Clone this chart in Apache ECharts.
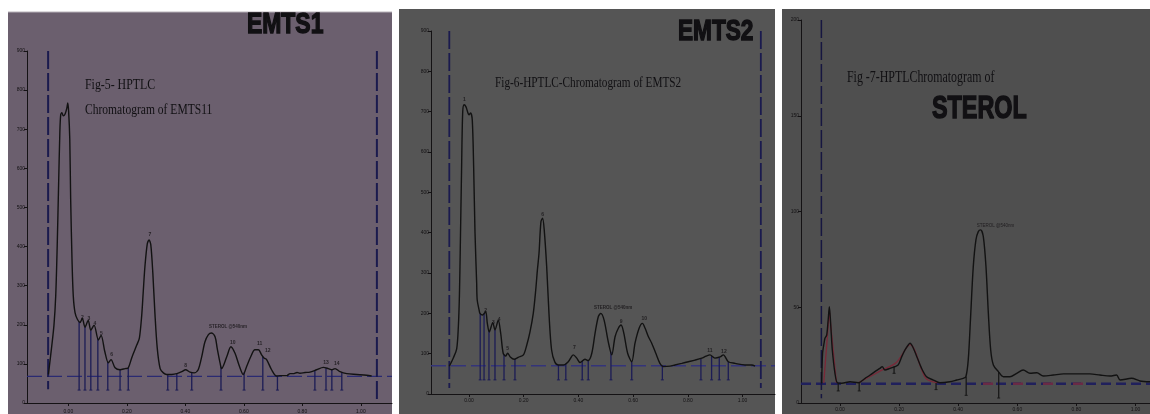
<!DOCTYPE html>
<html>
<head>
<meta charset="utf-8">
<script src="https://cdn.jsdelivr.net/npm/echarts@6/dist/echarts.min.js"></script>
<style>
html,body{margin:0;padding:0;background:#fff;}
#c{width:1150px;height:414px;}
</style>
</head>
<body>
<div id="c"></div>
<script>
// ---------------- DATA ----------------
const xTicks = [0, 0.2, 0.4, 0.6, 0.8, 1.0];

// Panel 1 (EMTS1) trace: Rf vs AU
const rf1 = [-0.068,-0.057,-0.049,-0.043,-0.038,-0.033,-0.029,-0.026,-0.022,-0.017,-0.011,-0.005,-0.002,0.001,0.005,0.008,0.013,0.017,0.023,0.031,0.040,0.048,0.057,0.068,0.077,0.088,0.103,0.112,0.125,0.137,0.146,0.160,0.177,0.194,0.205,0.217,0.234,0.243,0.251,0.256,0.262,0.270,0.276,0.282,0.289,0.296,0.304,0.314,0.325,0.336,0.354,0.371,0.388,0.401,0.416,0.430,0.444,0.456,0.467,0.479,0.490,0.502,0.509,0.519,0.524,0.542,0.556,0.570,0.585,0.598,0.610,0.624,0.638,0.650,0.661,0.669,0.678,0.695,0.712,0.724,0.747,0.758,0.769,0.782,0.792,0.809,0.826,0.849,0.872,0.889,0.901,0.912,0.929,0.952,0.986,1.020,1.037];
const au1 = [73,143,199,274,400,563,689,737,742,734,739,754,767,747,676,525,357,274,231,214,206,216,194,211,186,199,161,173,131,103,111,90,85,88,90,116,148,166,224,282,349,407,417,405,332,231,141,88,77,73,73,75,80,85,79,77,85,118,156,175,179,169,140,102,88,119,144,127,94,73,94,119,136,136,123,115,111,85,69,70,70,75,75,78,76,78,79,85,91,88,85,88,80,75,73,71,69];
const bound1 = [-0.069, 1.055];
const boundTop1 = [900, 900];
const boundBot1 = [35, 10];
const base1 = 68;
const dropRf1 = [0.037,0.057,0.077,0.101,0.135,0.177,0.205,0.340,0.371,0.422,0.522,0.601,0.665,0.715,0.843,0.881,0.901,0.935];
const dropTop1 = [208,194,186,164,105,85,90,73,75,78,93,78,118,69,84,89,85,79];
const dropBot1 = 33;
const lblTxt1 = ['2','3','4','5','6','7','8','10','11','12','13','14'];
const lblRf1 = [0.048,0.070,0.091,0.113,0.148,0.279,0.401,0.562,0.654,0.682,0.881,0.918];
const lblAU1 = [219,217,203,178,123,431,96,155,151,134,104,100];
const sterolLbl1 = [0.546, 194];

// Panel 2 (EMTS2)
const rf2 = [-0.072,-0.057,-0.045,-0.039,-0.035,-0.032,-0.027,-0.023,-0.018,-0.011,-0.005,0.000,0.006,0.012,0.017,0.022,0.028,0.030,0.037,0.040,0.050,0.061,0.067,0.074,0.087,0.095,0.107,0.116,0.125,0.134,0.141,0.152,0.165,0.180,0.199,0.211,0.223,0.235,0.244,0.250,0.256,0.263,0.269,0.275,0.284,0.293,0.302,0.314,0.327,0.345,0.363,0.376,0.381,0.394,0.406,0.424,0.436,0.449,0.461,0.473,0.482,0.494,0.509,0.522,0.534,0.546,0.556,0.566,0.580,0.595,0.607,0.622,0.634,0.644,0.656,0.668,0.683,0.698,0.710,0.735,0.753,0.778,0.802,0.826,0.851,0.867,0.881,0.899,0.918,0.930,0.948,0.973,1.009,1.034,1.046];
const au2 = [69,90,112,166,245,357,563,699,717,712,699,692,697,679,563,399,275,233,208,200,196,204,175,154,177,159,183,150,101,94,101,91,86,91,97,121,154,200,258,307,349,427,436,407,316,192,109,79,72,72,80,94,97,89,78,86,83,101,151,192,200,183,130,97,142,163,171,151,101,80,126,163,175,163,142,126,101,76,68,69,72,76,80,84,89,94,97,89,92,97,80,76,72,72,69];
const bound2 = [-0.072, 1.067];
const base2 = 70;
const dropRf2 = [0.041,0.055,0.073,0.095,0.128,0.168,0.327,0.354,0.414,0.436,0.519,0.595,0.707,0.848,0.887,0.915,0.948];
const dropTop2 = [200,200,156,159,98,87,72,75,82,83,105,80,70,88,94,91,80];
const dropBot2 = 35;
const lblTxt2 = ['1','2','3','4','5','6','7','9','10','11','12'];
const lblRf2 = [-0.017,0.061,0.089,0.110,0.141,0.269,0.385,0.556,0.641,0.881,0.932];
const lblAU2 = [731,206,177,185,112,444,115,179,186,107,105];
const sterolLbl2 = [0.527, 213];

// Panel 3 (STEROL standard)
const rf3 = [-0.062,-0.059,-0.054,-0.051,-0.045,-0.040,-0.036,-0.031,-0.026,-0.017,-0.009,0.006,0.034,0.062,0.085,0.102,0.118,0.135,0.143,0.152,0.169,0.186,0.197,0.209,0.220,0.231,0.237,0.246,0.260,0.276,0.293,0.316,0.338,0.372,0.395,0.417,0.426,0.434,0.442,0.451,0.460,0.468,0.476,0.485,0.494,0.502,0.510,0.519,0.536,0.553,0.575,0.598,0.620,0.643,0.666,0.688,0.722,0.756,0.801,0.846,0.880,0.914,0.936,0.948,0.987,1.015,1.049];
const au3 = [10.3,26.0,31.2,33.8,35.5,43.4,50.3,39.9,27.7,15.5,10.6,10.3,11.1,10.6,12.9,14.6,16.4,18.1,19.0,17.2,18.1,19.0,19.9,24.2,27.7,30.3,31.2,29.4,24.2,18.1,13.7,12.0,10.6,11.1,12.0,12.9,13.7,22.5,45.1,71.2,85.2,89.5,90.4,86.9,71.2,46.9,27.7,19.9,16.4,13.7,13.7,15.5,17.2,15.5,15.8,14.1,14.6,15.2,15.2,15.2,14.6,14.1,14.6,12.0,12.9,11.5,11.1];
const bound3 = [-0.063];
const base3 = 10;
const fitRf3a = [-0.055,-0.036,-0.012];
const fitAU3a = [10.5,48,10.5];
const fitRf3b = [0.062,0.14,0.19,0.237,0.29,0.33];
const fitAU3b = [10.6,17,21,30.5,13,10.6];
const dropRf3 = [-0.006,0.065,0.183,0.325,0.427,0.537];
const dropTop3 = [10.5,10.6,19,10.6,13.7,16.2];
const dropBot3 = [6.3,6.3,15.5,7,4,2.6];
const sterolLbl3 = [0.526, 92.5];
const sterolText = 'STEROL @540nm';

// ---------------- CHART ----------------
const chart = echarts.init(document.getElementById('c'), null, {renderer:'canvas'});
const pair = (xs, ys) => xs.map((x,i)=>[x, ys[i]]);
const ink = '#141214';
const navy = '#1a1a4e';

function xAxisCfg(idx, min, max, lblMargin){
  return {gridIndex: idx, type:'value', min:min, max:max,
    axisLine:{show:true, onZero:false, lineStyle:{color:ink, width:1}},
    axisTick:{show:true, customValues:xTicks, length:3, lineStyle:{color:ink}},
    axisLabel:{show:true, customValues:xTicks, formatter:v=>v.toFixed(2), fontSize:5, color:ink, margin:lblMargin, fontFamily:'Liberation Sans'},
    splitLine:{show:false}};
}
function yAxisCfg(idx, max, interval){
  return {gridIndex: idx, type:'value', min:0, max:max, interval:interval,
    axisLine:{show:true, onZero:false, lineStyle:{color:ink, width:1}},
    axisTick:{show:true, length:3, lineStyle:{color:ink}},
    axisLabel:{show:true, fontSize:5, color:ink, margin:2, fontFamily:'Liberation Sans'},
    splitLine:{show:false}};
}
function curve(idx, data){
  return {type:'line', xAxisIndex:idx, yAxisIndex:idx, data:data, showSymbol:false, smooth:0.3,
    lineStyle:{color:'#121212', width:1.4}, z:5, silent:true};
}
function vDashed(idx, rfs, tops, bots, color, width){
  return rfs.map((r,i)=>({type:'line', xAxisIndex:idx, yAxisIndex:idx, data:[[r,tops[i]],[r,bots[i]]], showSymbol:false, clip:false,
    lineStyle:{color:color, width:width, type:[18,4]}, z:3, silent:true}));
}
function hBase(idx, xmin, xmax, v, color, width, dash){
  return {type:'line', xAxisIndex:idx, yAxisIndex:idx, data:[[xmin,v],[xmax,v]], showSymbol:false,
    lineStyle:{color:color, width:width, type:dash}, z:3, silent:true};
}
function drops(idx, rfs, tops, bots, color){
  return {type:'custom', xAxisIndex:idx, yAxisIndex:idx, silent:true, z:4,
    data: rfs.map((r,i)=>[r, tops[i], Array.isArray(bots)?bots[i]:bots]),
    renderItem:function(params, api){
      const t = api.coord([api.value(0), api.value(1)]);
      const b = api.coord([api.value(0), api.value(2)]);
      return {type:'group', children:[
        {type:'line', shape:{x1:t[0],y1:t[1],x2:b[0],y2:b[1]}, style:{stroke:color, lineWidth:1.3}},
        {type:'line', shape:{x1:b[0]-1.5,y1:b[1],x2:b[0]+1.5,y2:b[1]}, style:{stroke:color, lineWidth:1}}
      ]};
    }};
}
function labels(idx, txt, rfs, aus, size, bold){
  return {type:'scatter', xAxisIndex:idx, yAxisIndex:idx, symbolSize:0, silent:true, z:6,
    data: txt.map((t,i)=>({name:t, value:[rfs[i], aus[i]]})),
    label:{show:true, position:'inside', formatter:p=>p.name, fontSize:size, fontWeight:bold?'bold':'normal', color:ink, fontFamily:'Liberation Sans'}};
}

const g1 = {left:27, top:51, width:365, height:358};
const g2 = {left:431, top:31, width:344, height:363};
const g3 = {left:801, top:20, width:349, height:383};
const x1min = (27-68.3)/292.5, x1max = x1min + 365/292.5;
const x2min = (431-469)/273.5, x2max = x2min + 344/273.5;
const x3min = (801-840)/295.5, x3max = x3min + 349/295.5;

function txt(x, y, s, font, sx, strokeW){
  const st = {text:s, font:font, fill:'#111013', textVerticalAlign:'middle', textAlign:'left'};
  if (strokeW) { st.stroke = '#111013'; st.lineWidth = strokeW; }
  return {type:'text', x:x, y:y, scaleX:sx, z:10, silent:true, style:st};
}

const option = {
  animation:false,
  backgroundColor:'#ffffff',
  graphic:[
    {type:'rect', shape:{x:8, y:12, width:384, height:402}, style:{fill:'#6b5f6e'}, z:-10, silent:true},
    {type:'line', shape:{x1:8, y1:12, x2:392, y2:12}, style:{stroke:'#b8b2b9', lineWidth:1}, z:-9, silent:true},
    {type:'rect', shape:{x:399, y:9, width:376, height:405}, style:{fill:'#555555'}, z:-10, silent:true},
    {type:'rect', shape:{x:782, y:9, width:368, height:405}, style:{fill:'#4f4f4f'}, z:-10, silent:true},
    txt(247, 25, 'EMTS1', 'bold 29px "Liberation Sans"', 0.79, 1.4),
    txt(678, 31.5, 'EMTS2', 'bold 29px "Liberation Sans"', 0.78, 1.4),
    txt(932, 109, 'STEROL', 'bold 32px "Liberation Sans"', 0.73, 1.4),
    txt(85, 85, 'Fig-5- HPTLC', '15px "Liberation Serif"', 0.79),
    txt(85, 110, 'Chromatogram of EMTS11', '15px "Liberation Serif"', 0.77),
    txt(495, 83, 'Fig-6-HPTLC-Chromatogram of EMTS2', '15px "Liberation Serif"', 0.75),
    txt(847, 77.5, 'Fig -7-HPTLChromatogram of', '17px "Liberation Serif"', 0.70)
  ],
  grid:[Object.assign({containLabel:false}, g1), Object.assign({containLabel:false}, g2), Object.assign({containLabel:false}, g3)],
  xAxis:[xAxisCfg(0, x1min, x1max, 6), xAxisCfg(1, x2min, x2max, 4), xAxisCfg(2, x3min, x3max, 4)],
  yAxis:[yAxisCfg(0, 900, 100), yAxisCfg(1, 900, 100), yAxisCfg(2, 200, 50)],
  series:[
    // panel 1
    hBase(0, x1min, x1max, base1, '#2a2a72', 1.2, [15,5]),
    ...vDashed(0, bound1, boundTop1, boundBot1, navy, 2),
    drops(0, dropRf1, dropTop1, dropBot1, '#1c1c55'),
    curve(0, pair(rf1, au1)),
    labels(0, lblTxt1, lblRf1, lblAU1, 5, true),
    labels(0, [sterolText], [sterolLbl1[0]], [sterolLbl1[1]], 4.5, true),
    // panel 2
    hBase(1, x2min, x2max, base2, '#34347a', 1.5, [15,5]),
    ...vDashed(1, bound2, [900,900], [15,15], navy, 1.8),
    drops(1, dropRf2, dropTop2, dropBot2, '#1c1c55'),
    curve(1, pair(rf2, au2)),
    labels(1, lblTxt2, lblRf2, lblAU2, 5, true),
    labels(1, [sterolText], [sterolLbl2[0]], [sterolLbl2[1]], 4.5, true),
    // panel 3
    hBase(2, x3min, x3max, base3, '#20205c', 2.5, [10,5]),
    hBase(2, 0.484, 0.890, base3, '#6a2a45', 2.5, [10,20]),
    ...vDashed(2, bound3, [200], [2.5], '#161640', 1.5),
    {type:'line', xAxisIndex:2, yAxisIndex:2, data:pair(fitRf3a, fitAU3a), showSymbol:false, lineStyle:{color:'#7a2838', width:1.3}, z:4, silent:true},
    {type:'line', xAxisIndex:2, yAxisIndex:2, data:pair(fitRf3b, fitAU3b), showSymbol:false, smooth:0.3, lineStyle:{color:'#7a2838', width:1.3}, z:4, silent:true},
    drops(2, dropRf3, dropTop3, dropBot3, '#1a1a1a'),
    curve(2, pair(rf3, au3)),
    labels(2, [sterolText], [sterolLbl3[0]], [sterolLbl3[1]], 4.5, false)
  ]
};
chart.setOption(option);
</script>
</body>
</html>
